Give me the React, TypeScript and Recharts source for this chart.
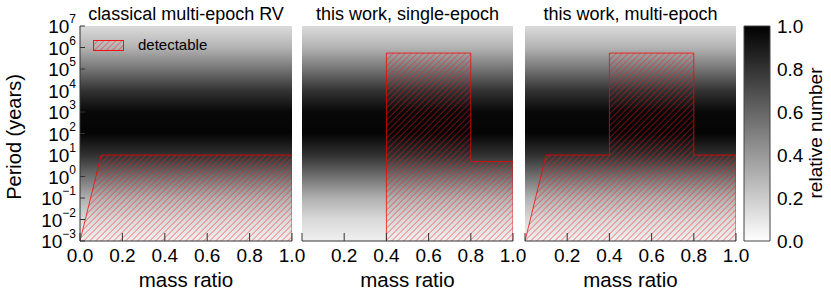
import { ComposedChart, Area, XAxis, YAxis, ReferenceArea } from 'recharts'

const FONT = '"Liberation Sans", Arial, Helvetica, sans-serif'

// axis ticks
const massRatioTicks = [0, 0.2, 0.4, 0.6, 0.8, 1.0]
const periodTicks = [1e-3, 1e-2, 1e-1, 1, 10, 1e2, 1e3, 1e4, 1e5, 1e6, 1e7]
const colorbarTicks = [0, 0.2, 0.4, 0.6, 0.8, 1.0]

// relative number of binaries at each period tick
const relNumber = [0.06, 0.15, 0.31, 0.56, 0.81, 0.98, 0.97, 0.8, 0.54, 0.3, 0.14]

const panelTitles = ['classical multi-epoch RV', 'this work, single-epoch', 'this work, multi-epoch']

// detectable regions: mass ratio / period (years) outline
const rvQ = [0, 0.1, 1.0, 1.0]
const rvP = [1e-3, 10, 10, 1e-3]
const singleQ = [0.4, 0.4, 0.8, 0.8, 1.0, 1.0]
const singleP = [1e-3, 5.5e5, 5.5e5, 5, 5, 1e-3]
const multiQ = [0, 0.1, 0.4, 0.4, 0.8, 0.8, 1.0, 1.0]
const multiP = [1e-3, 10, 10, 5.5e5, 5.5e5, 10, 10, 1e-3]

const grey = (v: number) => {
  const g = Math.round((1 - v) * 255)
  return `rgb(${g},${g},${g})`
}

const logMin = Math.log10(periodTicks[0])
const logMax = Math.log10(periodTicks[periodTicks.length - 1])

// stops from the top (long periods) down
const periodStops = periodTicks
  .map((p, i) => ({ offset: (logMax - Math.log10(p)) / (logMax - logMin), v: relNumber[i] }))
  .reverse()

const RED = '#ff0000'

// eslint-disable-next-line @typescript-eslint/no-explicit-any
function PowTick({ x, y, payload, show }: any) {
  if (!show) return <g />
  const exp = Math.round(Math.log10(payload.value))
  return (
    <text x={x} y={y + 7} textAnchor="end" fontSize={19} fill="#000" fontFamily={FONT}>
      10
      <tspan dy={-10} fontSize={12}>
        {String(exp).replace('-', '\u2212')}
      </tspan>
    </text>
  )
}

// "/" hatch, ~6px apart horizontally
function HatchPattern({ id }: { id: string }) {
  return (
    <pattern
      id={id}
      patternUnits="userSpaceOnUse"
      width={4.243}
      height={4.243}
      patternTransform="rotate(45)"
    >
      <rect x={0} y={0} width={0.6} height={4.243} fill="rgba(255,20,20,0.7)" />
    </pattern>
  )
}

interface PanelProps {
  idx: number
  left: number
  qs: number[]
  ps: number[]
  first: boolean
}

function Panel({ idx, left, qs, ps, first }: PanelProps) {
  const detect = qs.map((q, i) => ({ q, p: ps[i] }))
  const top = periodTicks[periodTicks.length - 1]
  const bg = [
    { q: massRatioTicks[0], p: top },
    { q: massRatioTicks[massRatioTicks.length - 1], p: top },
  ]
  const width = first ? 306 : 237
  const axisStroke = '#333'
  return (
    <div style={{ position: 'absolute', left, top: 0 }}>
      <ComposedChart
        width={width}
        height={300}
        margin={{ top: 26, right: 14, bottom: 0, left: first ? 0 : 12 }}
      >
        <defs>
          <linearGradient id={`pgrad${idx}`} x1="0" y1="0" x2="0" y2="1">
            {periodStops.map((s) => (
              <stop key={s.offset} offset={s.offset} stopColor={grey(s.v)} />
            ))}
          </linearGradient>
          <HatchPattern id={`hatchp${idx}`} />
        </defs>
        <Area
          data={bg}
          xAxisId="b"
          yAxisId="l"
          dataKey="p"
          type="linear"
          baseValue="dataMin"
          fill={`url(#pgrad${idx})`}
          fillOpacity={1}
          stroke="none"
          isAnimationActive={false}
        />
        <Area
          data={detect}
          xAxisId="b"
          yAxisId="l"
          dataKey="p"
          type="linear"
          baseValue="dataMin"
          fill={`url(#hatchp${idx})`}
          fillOpacity={1}
          stroke={RED}
          strokeOpacity={0.75}
          strokeWidth={1}
          isAnimationActive={false}
        />
        <XAxis
          xAxisId="b"
          type="number"
          dataKey="q"
          domain={[0, 1]}
          allowDataOverflow
          ticks={massRatioTicks}
          interval={0}
          height={59}
          tickSize={-8}
          tickMargin={16}
          stroke={axisStroke}
          tick={{ fontSize: 19, fill: '#000', fontFamily: FONT }}
          tickFormatter={(v: number) => (!first && v === 0 ? '' : v.toFixed(1))}
        />
        <XAxis
          xAxisId="t"
          orientation="top"
          type="number"
          dataKey="q"
          domain={[0, 1]}
          allowDataOverflow
          ticks={massRatioTicks}
          interval={0}
          height={0}
          tickSize={-8}
          stroke={axisStroke}
          tickFormatter={() => ''}
        />
        <YAxis
          yAxisId="l"
          type="number"
          scale="log"
          domain={[periodTicks[0], top]}
          ticks={periodTicks}
          interval={0}
          allowDataOverflow
          width={first ? 80 : 0}
          tickSize={-5}
          tickMargin={9}
          stroke={axisStroke}
          tick={(props: object) => <PowTick {...props} show={first} />}
        />
        <YAxis
          yAxisId="r"
          orientation="right"
          type="number"
          scale="log"
          domain={[periodTicks[0], top]}
          ticks={periodTicks}
          interval={0}
          allowDataOverflow
          width={0}
          tickSize={-5}
          stroke={axisStroke}
          tickFormatter={() => ''}
        />
      </ComposedChart>
    </div>
  )
}

function ColorBar() {
  const bar = [
    { x: 0, v: colorbarTicks[colorbarTicks.length - 1] },
    { x: 1, v: colorbarTicks[colorbarTicks.length - 1] },
  ]
  return (
    <div style={{ position: 'absolute', left: 734, top: 0 }}>
      <ComposedChart width={97} height={300} margin={{ top: 26, right: 0, bottom: 59, left: 10 }}>
        <defs>
          <linearGradient id="cbar" x1="0" y1="0" x2="0" y2="1">
            <stop offset={0} stopColor={grey(colorbarTicks[colorbarTicks.length - 1])} />
            <stop offset={1} stopColor={grey(colorbarTicks[0])} />
          </linearGradient>
        </defs>
        <Area
          data={bar}
          xAxisId="c"
          yAxisId="c"
          dataKey="v"
          type="linear"
          baseValue="dataMin"
          fill="url(#cbar)"
          fillOpacity={1}
          stroke="none"
          isAnimationActive={false}
        />
        <ReferenceArea
          xAxisId="c"
          yAxisId="c"
          x1={0}
          x2={1}
          y1={0}
          y2={1}
          fill="none"
          stroke="#444"
          strokeWidth={1}
          ifOverflow="visible"
        />
        <XAxis xAxisId="c" type="number" dataKey="x" domain={[0, 1]} allowDataOverflow hide />
        <YAxis
          yAxisId="c"
          orientation="right"
          type="number"
          domain={[0, 1]}
          allowDataOverflow
          ticks={colorbarTicks}
          interval={0}
          width={61}
          axisLine={false}
          tickLine={false}
          tickSize={0}
          tickMargin={7}
          tick={{ fontSize: 19, fill: '#000', fontFamily: FONT }}
          tickFormatter={(v: number) => v.toFixed(1)}
        />
      </ComposedChart>
    </div>
  )
}

const panelCenters = [186, 407.5, 630.5]

export default function App() {
  return (
    <div
      style={{
        position: 'absolute',
        left: 0,
        top: 0,
        width: 831,
        height: 300,
        background: '#fff',
        fontFamily: FONT,
      }}
    >
      <Panel idx={0} left={0} qs={rvQ} ps={rvP} first />
      <Panel idx={1} left={290} qs={singleQ} ps={singleP} first={false} />
      <Panel idx={2} left={513} qs={multiQ} ps={multiP} first={false} />
      <ColorBar />
      <svg
        width={831}
        height={300}
        style={{ position: 'absolute', left: 0, top: 0, pointerEvents: 'none' }}
        fontFamily={FONT}
      >
        <defs>
          <HatchPattern id="hatchLegend" />
        </defs>
        {panelTitles.map((t, i) => (
          <text key={t} x={panelCenters[i]} y={20} textAnchor="middle" fontSize={18} fill="#000">
            {t}
          </text>
        ))}
        {panelCenters.map((c) => (
          <text key={c} x={c} y={287} textAnchor="middle" fontSize={20.5} fill="#000">
            mass ratio
          </text>
        ))}
        <text transform="translate(21,137) rotate(-90)" textAnchor="middle" fontSize={20} fill="#000">
          Period (years)
        </text>
        <text transform="translate(822,133) rotate(-90)" textAnchor="middle" fontSize={19} fill="#000">
          relative number
        </text>
        <rect
          x={93.5}
          y={40.5}
          width={30}
          height={10}
          fill="url(#hatchLegend)"
          stroke={RED}
          strokeOpacity={0.9}
        />
        <text x={138} y={50} fontSize={15} fill="#000">
          detectable
        </text>
      </svg>
    </div>
  )
}
